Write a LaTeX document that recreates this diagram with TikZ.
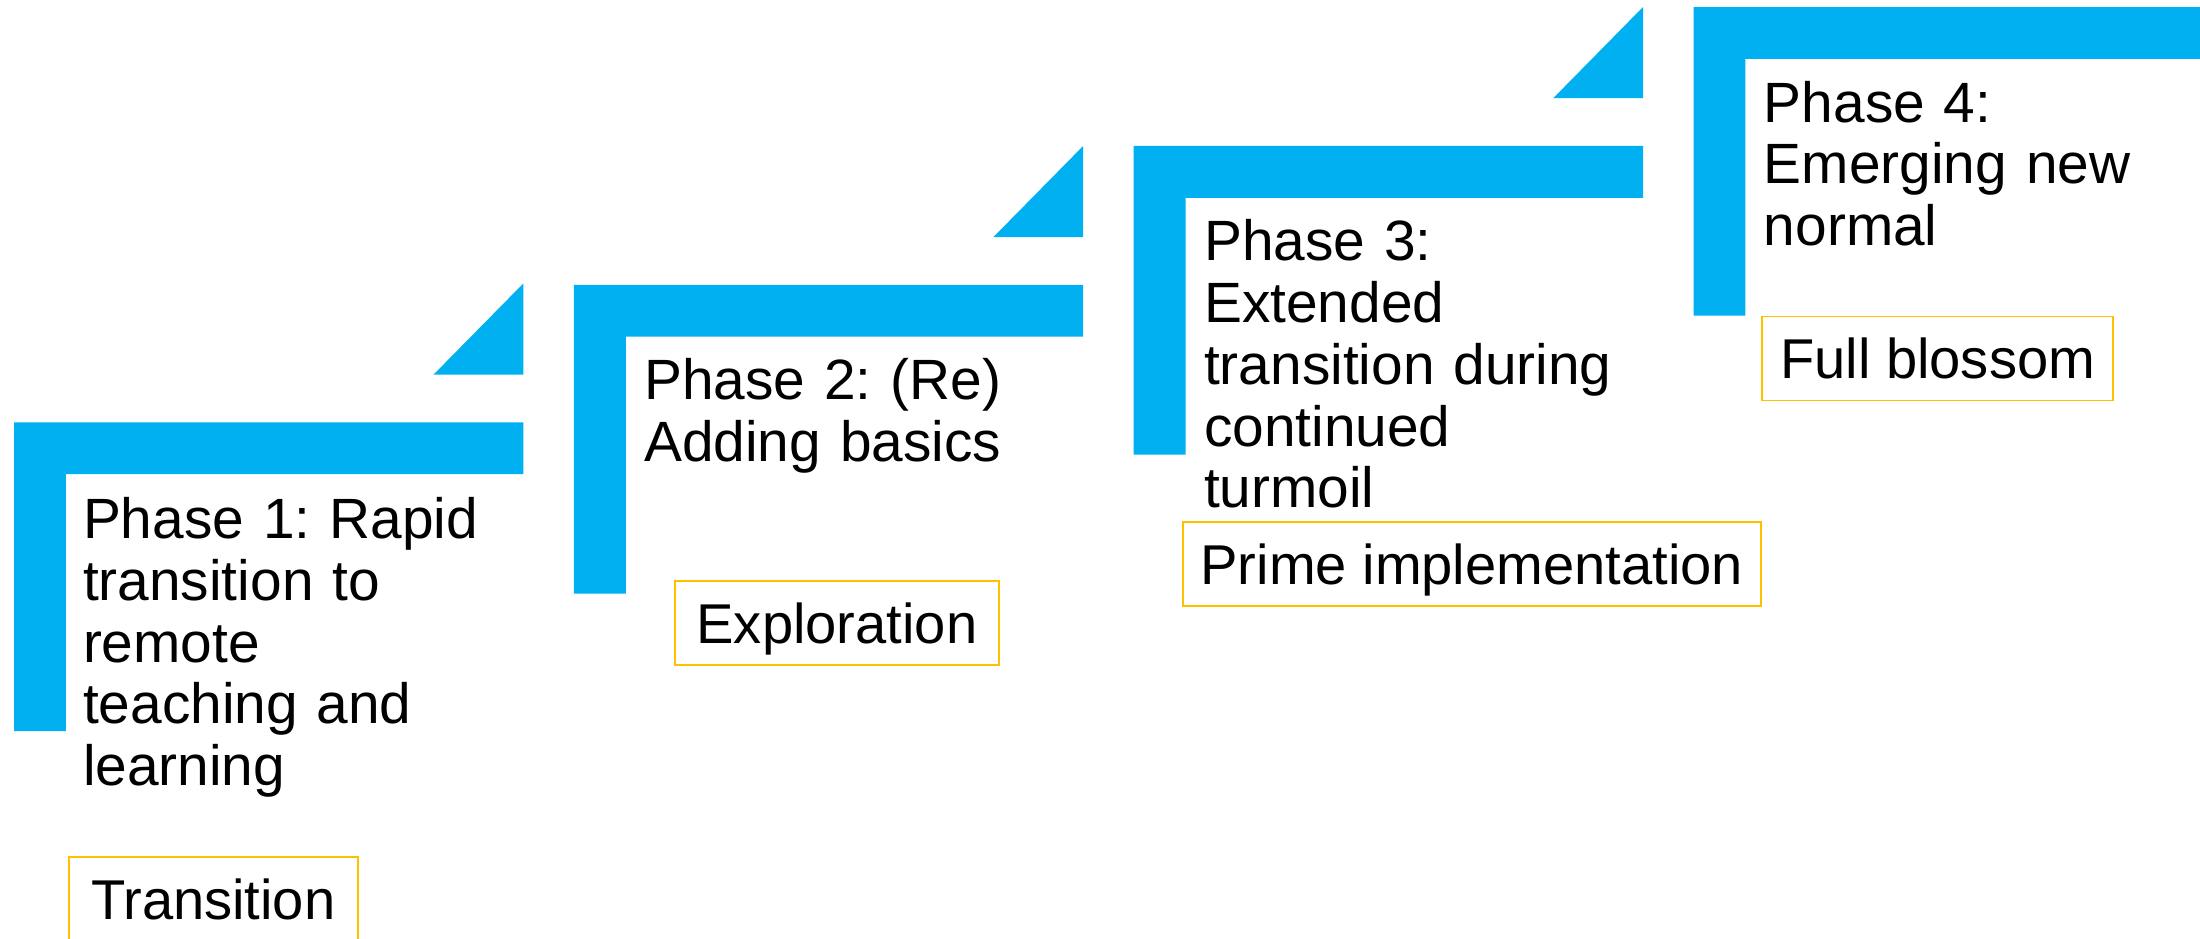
\documentclass[tikz,border=0pt]{standalone}
\usepackage{fontspec}
\setmainfont{Liberation Sans}
\frenchspacing
\definecolor{stepblue}{HTML}{00B0F0}
\definecolor{labelgold}{HTML}{FFC000}
\newcommand\stepshape[2]{%
  \fill[stepfill] (#1,#2) -- ++(363,0) -- ++(0,37) -- ++(-326,0) -- ++(0,183) -- ++(-37,0) -- cycle;
  \fill[stepfill] ($(#1,#2)+(299,-34)$) -- ++(64,0) -- ++(0,-65) -- cycle;}
\usetikzlibrary{calc}
\begin{document}
\begin{tikzpicture}[x=1pt,y=-1pt,
  stepfill/.style={fill=stepblue, draw=none},
  phasetext/.style={anchor=base west, inner sep=0pt, text width=340pt, align=left, font=\fontsize{40.5}{44}\selectfont},
  labelbox/.style={draw=labelgold, line width=1.2pt, inner sep=0pt, minimum height=60pt, text height=28.6pt, text depth=0pt, font=\fontsize{40}{44}\selectfont}]
\useasboundingbox (0,0) rectangle (1568,669);
\stepshape{10}{301}
\stepshape{409}{203}
\stepshape{808}{104}
\stepshape{1207}{5}
\node[phasetext] (p1) at (59,384) {Phase 1: Rapid\\transition to\\remote\\teaching and\\learning};
\node[phasetext] (p2) at (459,285) {Phase 2: (Re)\\Adding basics};
\node[phasetext] (p3) at (858,186) {Phase 3:\\Extended\\transition during\\continued\\turmoil};
\node[phasetext] (p4) at (1257,87) {Phase 4:\\Emerging new\\normal};
\node[labelbox, minimum width=206pt] (l1) at (152,641) {Transition};
\node[labelbox, minimum width=231pt] (l2) at (596.5,444) {Exploration};
\node[labelbox, minimum width=412pt] (l3) at (1049,402) {Prime implementation};
\node[labelbox, minimum width=250pt] (l4) at (1381,255.5) {Full blossom};
\end{tikzpicture}
\end{document}
